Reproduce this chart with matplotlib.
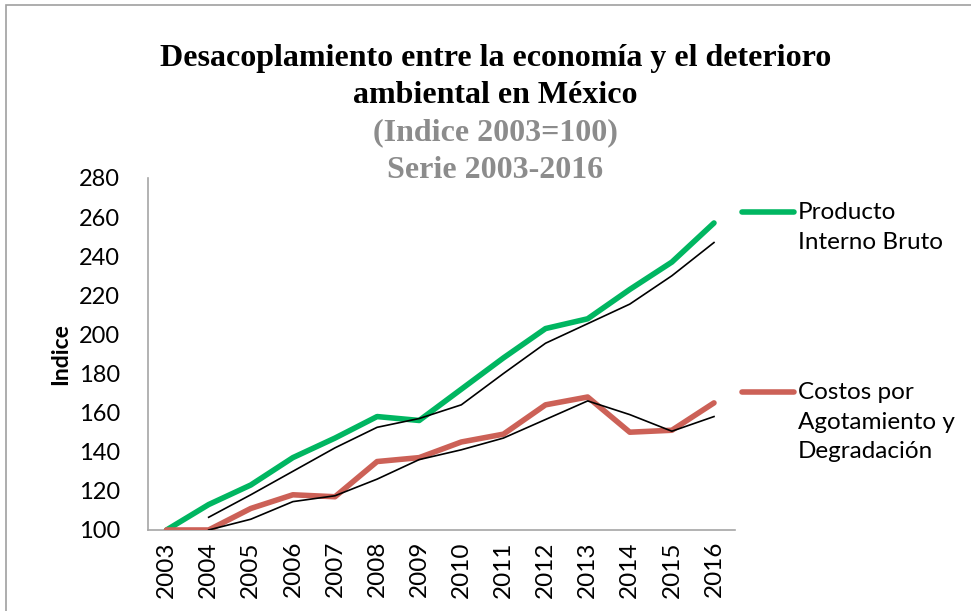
import numpy as np
import pandas as pd
import matplotlib
matplotlib.use("Agg")
import matplotlib.pyplot as plt
from matplotlib.lines import Line2D
from matplotlib.patches import Rectangle

# Datos (Indice 2003=100)
anios = [2003, 2004, 2005, 2006, 2007, 2008, 2009, 2010, 2011, 2012, 2013, 2014, 2015, 2016]
pib = [100, 113, 123, 137, 147, 158, 156, 172, 188, 203, 208, 223, 237, 257]
costos = [100, 100, 111, 118, 117, 135, 137, 145, 149, 164, 168, 150, 151, 165]

lbl_pib = "Producto\nInterno Bruto"
lbl_costos = "Costos por\nAgotamiento y\nDegradación"

verde = "#00B661"
rojo = "#CC6157"

# Tendencia: media movil de 2 periodos
ma_pib = pd.Series(pib).rolling(2).mean()
ma_costos = pd.Series(costos).rolling(2).mean()

plt.rcParams["font.family"] = ["Lato", "DejaVu Sans"]

fig = plt.figure(figsize=(9.71, 6.11), dpi=100)
ax = fig.add_axes([0.152, 0.1326, 0.605, 0.5761])

x = np.arange(len(anios))
ax.plot(x, pib, color=verde, lw=4, solid_capstyle="round", solid_joinstyle="round", zorder=3)
ax.plot(x, costos, color=rojo, lw=4, solid_capstyle="round", solid_joinstyle="round", zorder=3)
ax.plot(x, ma_pib, color="black", lw=1.2, zorder=4)
ax.plot(x, ma_costos, color="black", lw=1.2, zorder=4)

ax.set_xlim(-0.45, 13.5)
ax.set_ylim(100, 280)
ax.set_yticks(range(100, 281, 20))
ax.set_xticks(x)
ax.set_xticklabels([str(a) for a in anios], rotation=90, fontsize=17.5)
ax.tick_params(axis="y", labelsize=17, length=0, pad=20)
ax.tick_params(axis="x", length=0, pad=8)
for s in ["top", "right"]:
    ax.spines[s].set_visible(False)
for s in ["left", "bottom"]:
    ax.spines[s].set_color("#A6A6A6")
    ax.spines[s].set_linewidth(1.2)

ax.set_ylabel("Indice", fontsize=16.5, fontweight="bold")
ax.yaxis.set_label_coords(-0.13, 0.5)

# Titulo
fs_tit = 23
fig.text(0.51, 0.905, "Desacoplamiento entre la economía y el deterioro", ha="center", va="center",
         fontsize=fs_tit, fontweight="bold", family="Liberation Serif")
fig.text(0.51, 0.844, "ambiental en México", ha="center", va="center",
         fontsize=fs_tit, fontweight="bold", family="Liberation Serif")
fig.text(0.51, 0.783, "(Indice 2003=100)", ha="center", va="center",
         fontsize=fs_tit, fontweight="bold", family="Liberation Serif", color="#8C8C8C")
fig.text(0.51, 0.721, "Serie 2003-2016", ha="center", va="center",
         fontsize=fs_tit, fontweight="bold", family="Liberation Serif", color="#8C8C8C")

# Leyenda
for yl, col, lbl in [(0.653, verde, lbl_pib), (0.358, rojo, lbl_costos)]:
    fig.add_artist(Line2D([0.764, 0.818], [yl, yl], color=col, lw=4, solid_capstyle="round",
                          transform=fig.transFigure))
    fig.text(0.822, yl + 0.016, lbl, ha="left", va="top", fontsize=17.5, linespacing=1.5)

# Marco exterior
fig.add_artist(Rectangle((0.006, -0.1), 1.2, 1.092, transform=fig.transFigure,
                         fill=False, edgecolor="#A0A0A0", lw=1.2))

fig.savefig("out.png", dpi=100)
